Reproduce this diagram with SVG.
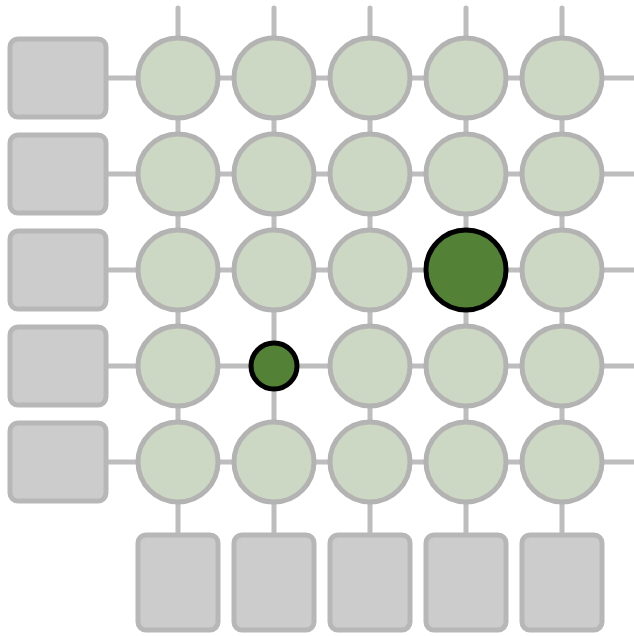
<svg xmlns="http://www.w3.org/2000/svg" width="634" height="636" viewBox="0 0 634 636">
<style>
.ln{stroke:#bdbdbd;stroke-width:5;stroke-linecap:round;fill:none}
.sq{fill:#cccccc;stroke:#b7b7b7;stroke-width:5}
.c{fill:#ccd8c3;stroke:#b3b3b3;stroke-width:5}
.d{fill:#538135;stroke:#000;stroke-width:5}
</style>
<rect width="634" height="636" fill="#fff"/>
<g id="connectors">
<line class="ln" x1="106" y1="78" x2="640" y2="78"/>
<line class="ln" x1="106" y1="174" x2="640" y2="174"/>
<line class="ln" x1="106" y1="270" x2="640" y2="270"/>
<line class="ln" x1="106" y1="366" x2="640" y2="366"/>
<line class="ln" x1="106" y1="462" x2="640" y2="462"/>
<line class="ln" x1="178" y1="8" x2="178" y2="534"/>
<line class="ln" x1="274" y1="8" x2="274" y2="534"/>
<line class="ln" x1="370" y1="8" x2="370" y2="534"/>
<line class="ln" x1="466" y1="8" x2="466" y2="534"/>
<line class="ln" x1="562" y1="8" x2="562" y2="534"/>
</g>
<g id="left">
<rect class="sq" x="10" y="39" width="96" height="78" rx="8"/>
<rect class="sq" x="10" y="135" width="96" height="78" rx="8"/>
<rect class="sq" x="10" y="231" width="96" height="78" rx="8"/>
<rect class="sq" x="10" y="327" width="96" height="78" rx="8"/>
<rect class="sq" x="10" y="423" width="96" height="78" rx="8"/>
</g>
<g id="bottom">
<rect class="sq" x="138" y="535" width="80" height="95" rx="8"/>
<rect class="sq" x="234" y="535" width="80" height="95" rx="8"/>
<rect class="sq" x="330" y="535" width="80" height="95" rx="8"/>
<rect class="sq" x="426" y="535" width="80" height="95" rx="8"/>
<rect class="sq" x="522" y="535" width="80" height="95" rx="8"/>
</g>
<g id="grid">
<circle class="c" cx="178" cy="78" r="40"/><circle class="c" cx="274" cy="78" r="40"/><circle class="c" cx="370" cy="78" r="40"/><circle class="c" cx="466" cy="78" r="40"/><circle class="c" cx="562" cy="78" r="40"/>
<circle class="c" cx="178" cy="174" r="40"/><circle class="c" cx="274" cy="174" r="40"/><circle class="c" cx="370" cy="174" r="40"/><circle class="c" cx="466" cy="174" r="40"/><circle class="c" cx="562" cy="174" r="40"/>
<circle class="c" cx="178" cy="270" r="40"/><circle class="c" cx="274" cy="270" r="40"/><circle class="c" cx="370" cy="270" r="40"/><circle class="d" cx="466" cy="270" r="40"/><circle class="c" cx="562" cy="270" r="40"/>
<circle class="c" cx="178" cy="366" r="40"/><circle class="d" cx="274" cy="366" r="23"/><circle class="c" cx="370" cy="366" r="40"/><circle class="c" cx="466" cy="366" r="40"/><circle class="c" cx="562" cy="366" r="40"/>
<circle class="c" cx="178" cy="462" r="40"/><circle class="c" cx="274" cy="462" r="40"/><circle class="c" cx="370" cy="462" r="40"/><circle class="c" cx="466" cy="462" r="40"/><circle class="c" cx="562" cy="462" r="40"/>
</g>
</svg>
